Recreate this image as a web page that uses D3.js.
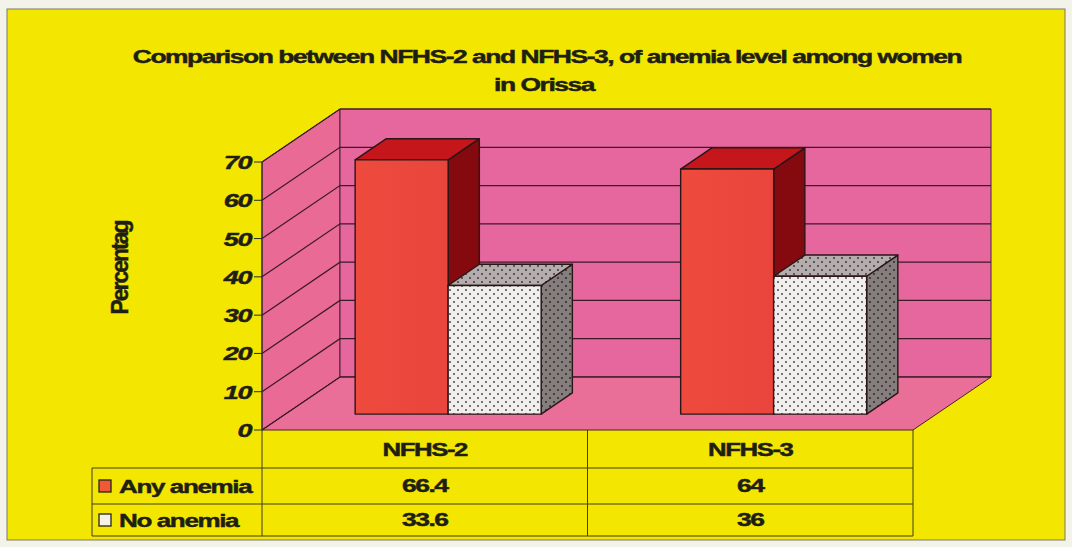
<!DOCTYPE html>
<html>
<head>
<meta charset="utf-8">
<script src="https://cdn.jsdelivr.net/npm/d3@7"></script>
<style>
  html, body { margin: 0; padding: 0; background: #f3f3ea; }
  svg { display: block; }
  text { font-family: "Liberation Sans", Arial, sans-serif; font-weight: bold; fill: #1e1e14;
         stroke: #1e1e14; stroke-width: 0.45px; paint-order: stroke; }
</style>
</head>
<body>
<svg id="chart" width="1072" height="547"></svg>
<script>
// ---- data ----
const categories = ["NFHS-2", "NFHS-3"];
const seriesNames = ["Any anemia", "No anemia"];
const anyAnemia = [66.4, 64];
const noAnemia = [33.6, 36];
const yTicks = [0, 10, 20, 30, 40, 50, 60, 70];
const titleLines = ["Comparison between NFHS-2 and NFHS-3, of anemia level among women", "in Orissa"];
const yAxisTitle = "Percentag";

const seriesValues = [anyAnemia, noAnemia];

// ---- layout ----
const plotLeft = 262, plotRight = 913;
const depth = { dx: 78, dy: -53 };      // offset of the back wall from the front plane
const barZ = [0.3, 0.7];                // bars sit in the middle of the floor depth

const svg = d3.select("#chart");
const defs = svg.append("defs");

// dotted fills for the "No anemia" bars
function dotPattern(id, bg, dot) {
  const p = defs.append("pattern").attr("id", id)
    .attr("width", 8).attr("height", 8).attr("patternUnits", "userSpaceOnUse");
  p.append("rect").attr("width", 8).attr("height", 8).attr("fill", bg);
  p.append("circle").attr("cx", 2).attr("cy", 2).attr("r", 0.9).attr("fill", dot);
  p.append("circle").attr("cx", 6).attr("cy", 6).attr("r", 0.9).attr("fill", dot);
}
dotPattern("dotsFront", "#f1efed", "#3a3a3a");
dotPattern("dotsTop", "#b5adad", "#2e2e2e");
dotPattern("dotsSide", "#857e7c", "#222");

const redFront = defs.append("linearGradient").attr("id", "redFront")
  .attr("x1", 0).attr("x2", 1).attr("y1", 0).attr("y2", 0);
redFront.append("stop").attr("offset", 0).attr("stop-color", "#ee4b3e");
redFront.append("stop").attr("offset", 1).attr("stop-color", "#e9453c");

// scales
const x0 = d3.scaleBand().domain(categories).range([plotLeft, plotRight]).padding(0);
const x1 = d3.scaleBand().domain(seriesNames).range([0, x0.bandwidth()])
  .paddingInner(0).paddingOuter(0.75);
const y = d3.scaleLinear().domain([0, 70]).range([430, 162]);

// projection of (screen x on front plane, value, depth fraction)
const P = (x, v, z) => [x + z * depth.dx, y(v) + z * depth.dy];
const poly = pts => "M" + pts.map(p => p.join(",")).join("L") + "Z";

// ---- background frame ----
svg.append("rect").attr("x", 7).attr("y", 9).attr("width", 1058).attr("height", 531)
  .attr("fill", "#f3e600").attr("stroke", "#7a7a6a").attr("stroke-width", 1);

// ---- walls and floor ----
const yMax = 70;
svg.append("path")   // side wall
  .attr("d", poly([P(plotLeft, 0, 0), P(plotLeft, yMax, 0), P(plotLeft, yMax, 1), P(plotLeft, 0, 1)]))
  .attr("fill", "#e86a95").attr("stroke", "#4a2030").attr("stroke-width", 1);
svg.append("path")   // back wall
  .attr("d", poly([P(plotLeft, 0, 1), P(plotLeft, yMax, 1), P(plotRight, yMax, 1), P(plotRight, 0, 1)]))
  .attr("fill", "#e5679e").attr("stroke", "#4a2030").attr("stroke-width", 1);
svg.append("path")   // floor
  .attr("d", poly([P(plotLeft, 0, 0), P(plotLeft, 0, 1), P(plotRight, 0, 1), P(plotRight, 0, 0)]))
  .attr("fill", "#e96e98").attr("stroke", "#4a2030").attr("stroke-width", 1);

// gridlines: along the side wall then across the back wall
const grid = svg.append("g").attr("fill", "none").attr("stroke", "#3c1a28").attr("stroke-width", 1.2);
yTicks.forEach(v => {
  const a = P(plotLeft, v, 0), b = P(plotLeft, v, 1), c = P(plotRight, v, 1);
  grid.append("path").attr("d", `M${a}L${b}L${c}`);
});

// value axis line and ticks
const axisG = svg.append("g").attr("stroke", "#2a2a20").attr("stroke-width", 1);
axisG.append("line").attr("x1", plotLeft).attr("x2", plotLeft).attr("y1", y(0)).attr("y2", y(70));
yTicks.forEach(v => {
  axisG.append("line").attr("x1", plotLeft - 8).attr("x2", plotLeft).attr("y1", y(v)).attr("y2", y(v));
});

// wide, tightly spaced bold text
function label(parent, x, yy, str, size, sx, anchor, italic) {
  return parent.append("text")
    .attr("transform", `translate(${x},${yy}) scale(${sx},1)`)
    .attr("text-anchor", anchor || "middle")
    .attr("font-size", size)
    .attr("letter-spacing", "-1px")
    .attr("font-style", italic ? "italic" : "normal")
    .text(str);
}

yTicks.forEach(v => label(svg, 251, y(v) + 7, String(v), 19, 1.42, "end", true));

// ---- bars ----
const faces = {
  "Any anemia": { front: "url(#redFront)", top: "#c5161c", side: "#840a10" },
  "No anemia": { front: "url(#dotsFront)", top: "url(#dotsTop)", side: "url(#dotsSide)" }
};
const barsG = svg.append("g").attr("stroke", "#2a1616").attr("stroke-width", 1.4).attr("stroke-linejoin", "round");
categories.forEach((cat, ci) => {
  seriesNames.forEach((s, si) => {
    const v = seriesValues[si][ci];
    const xl = x0(cat) + x1(s), xr = xl + x1.bandwidth();
    const [zf, zb] = barZ;
    const f = faces[s];
    barsG.append("path").attr("fill", f.side)
      .attr("d", poly([P(xr, 0, zf), P(xr, v, zf), P(xr, v, zb), P(xr, 0, zb)]));
    barsG.append("path").attr("fill", f.top)
      .attr("d", poly([P(xl, v, zf), P(xl, v, zb), P(xr, v, zb), P(xr, v, zf)]));
    barsG.append("path").attr("fill", f.front)
      .attr("d", poly([P(xl, 0, zf), P(xl, v, zf), P(xr, v, zf), P(xr, 0, zf)]));
  });
});

// ---- data table ----
const rowY = [430, 468, 504, 536];
const tableLeft = 92;
const tbl = svg.append("g").attr("stroke", "#3e3e18").attr("stroke-width", 1);
rowY.slice(1).forEach(r => tbl.append("line").attr("x1", tableLeft).attr("x2", plotRight).attr("y1", r).attr("y2", r));
tbl.append("line").attr("x1", tableLeft).attr("x2", tableLeft).attr("y1", rowY[1]).attr("y2", rowY[3]);
[plotLeft, x0(categories[1]), plotRight].forEach(xx =>
  tbl.append("line").attr("x1", xx).attr("x2", xx).attr("y1", rowY[0]).attr("y2", rowY[3]));

categories.forEach(cat => {
  const cx = x0(cat) + x0.bandwidth() / 2;
  label(svg, cx, 456, cat, 18, 1.43, "middle");
});
const legendFill = ["#ee5a36", "#f4f1e6"];
seriesNames.forEach((s, si) => {
  const top = rowY[si + 1], bot = rowY[si + 2];
  const mid = (top + bot) / 2;
  svg.append("rect").attr("x", 99).attr("y", mid - 6).attr("width", 12).attr("height", 12)
    .attr("fill", legendFill[si]).attr("stroke", "#2a2216").attr("stroke-width", 1.3);
  label(svg, 119, mid + 7, s, 19, 1.37, "start");
  categories.forEach((cat, ci) => {
    const cx = x0(cat) + x0.bandwidth() / 2;
    label(svg, cx, mid + 6, String(seriesValues[si][ci]), 18, 1.47, "middle");
  });
});

// ---- titles ----
label(svg, 547, 63, titleLines[0], 18, 1.47, "middle");
label(svg, 544, 91, titleLines[1], 18, 1.47, "middle");

svg.append("text")
  .attr("transform", "translate(128,268) rotate(-90)")
  .attr("text-anchor", "middle").attr("font-size", 23).attr("letter-spacing", "-2px")
  .text(yAxisTitle);
</script>
</body>
</html>
